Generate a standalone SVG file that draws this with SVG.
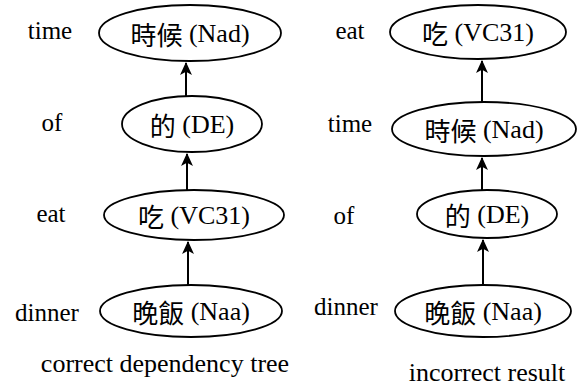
<svg xmlns="http://www.w3.org/2000/svg" width="581" height="390" viewBox="0 0 581 390">
  <style>
    text { font-family: "Liberation Serif", "Times New Roman", Tinos, Times, serif; fill: #000; font-size: 25px; text-anchor: middle; dominant-baseline: central; }
    .node text, .caption { font-size: 26px; }
    .cjk { font-family: "Noto Sans CJK TC", "Noto Sans CJK SC", sans-serif; font-size: 26px; }
    .node ellipse { fill: #fff; stroke: #000; stroke-width: 1.8; }
    .edge { stroke: #000; stroke-width: 2; fill: none; marker-end: url(#arrow); }
  </style>
  <defs>
    <marker id="arrow" viewBox="0 0 12 12" refX="11" refY="6" markerWidth="13" markerHeight="13" markerUnits="userSpaceOnUse" orient="auto">
      <path d="M0,0.5 L12,6 L0,11.5 L3,6 z" fill="#000"/>
    </marker>
  </defs>

  <!-- correct dependency tree -->
  <g id="left-time" class="node">
    <ellipse cx="190" cy="33" rx="91" ry="28"/>
    <text x="190" y="33"><tspan class="cjk">時候</tspan> (Nad)</text>
  </g>
  <g id="left-of" class="node">
    <ellipse cx="192" cy="124" rx="70" ry="28"/>
    <text x="192" y="124"><tspan class="cjk">的</tspan> (DE)</text>
  </g>
  <g id="left-eat" class="node">
    <ellipse cx="194" cy="215" rx="90" ry="25"/>
    <text x="194" y="215"><tspan class="cjk">吃</tspan> (VC31)</text>
  </g>
  <g id="left-dinner" class="node">
    <ellipse cx="191" cy="311" rx="91" ry="26"/>
    <text x="191" y="311"><tspan class="cjk">晚飯</tspan> (Naa)</text>
  </g>

  <!-- incorrect result -->
  <g id="right-eat" class="node">
    <ellipse cx="478" cy="32" rx="88" ry="27"/>
    <text x="478" y="32"><tspan class="cjk">吃</tspan> (VC31)</text>
  </g>
  <g id="right-time" class="node">
    <ellipse cx="484" cy="129" rx="92" ry="27"/>
    <text x="484" y="129"><tspan class="cjk">時候</tspan> (Nad)</text>
  </g>
  <g id="right-of" class="node">
    <ellipse cx="487" cy="214" rx="70" ry="24"/>
    <text x="487" y="214"><tspan class="cjk">的</tspan> (DE)</text>
  </g>
  <g id="right-dinner" class="node">
    <ellipse cx="483" cy="311" rx="88" ry="26"/>
    <text x="483" y="311"><tspan class="cjk">晚飯</tspan> (Naa)</text>
  </g>

  <g id="connectors">
    <line class="edge" x1="186" y1="96" x2="186" y2="63"/>
    <line class="edge" x1="187" y1="190" x2="187" y2="154"/>
    <line class="edge" x1="188" y1="285" x2="188" y2="242"/>
    <line class="edge" x1="482" y1="102" x2="482" y2="61"/>
    <line class="edge" x1="482" y1="190" x2="482" y2="158"/>
    <line class="edge" x1="483" y1="285" x2="483" y2="240"/>
  </g>

  <!-- English glosses -->
  <text x="50" y="30">time</text>
  <text x="52" y="122">of</text>
  <text x="51" y="213">eat</text>
  <text x="47" y="312">dinner</text>
  <text x="350" y="30">eat</text>
  <text x="350" y="123">time</text>
  <text x="344" y="215">of</text>
  <text x="346" y="306">dinner</text>

  <text class="caption" x="165" y="363">correct dependency tree</text>
  <text class="caption" x="487" y="372">incorrect result</text>
</svg>
